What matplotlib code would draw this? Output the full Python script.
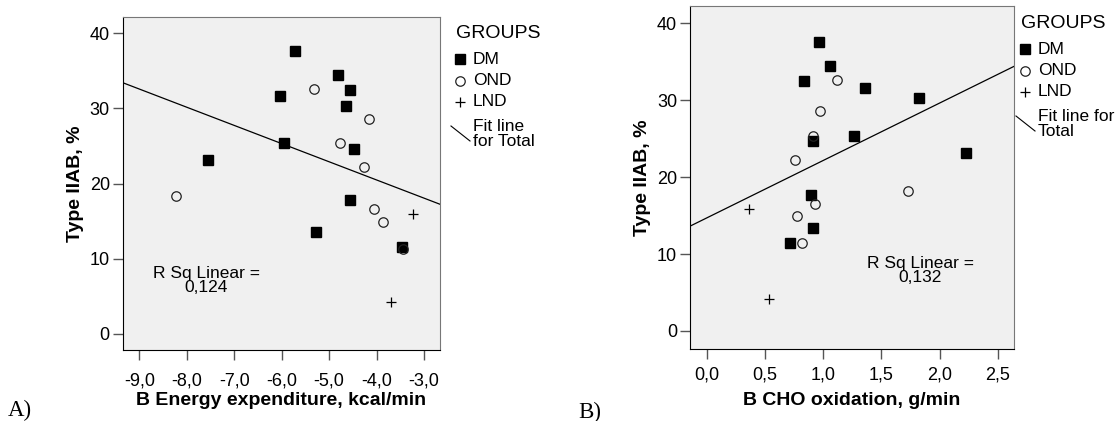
import numpy as np
import matplotlib
matplotlib.use('Agg')
import matplotlib.pyplot as plt
from matplotlib.lines import Line2D
from matplotlib.ticker import FuncFormatter

plt.rcParams['font.family'] = ['Liberation Sans', 'DejaVu Sans']

# ---- data ----
# panel A: B energy expenditure (kcal/min) vs type IIAB (%)
dm_energy = [-5.72, -4.81, -4.57, -6.03, -4.65, -5.94, -4.47, -7.55, -4.57, -5.28, -3.46]
dm_type = [37.6, 34.4, 32.5, 31.6, 30.3, 25.4, 24.6, 23.1, 17.8, 13.5, 11.6]
ond_energy = [-5.32, -4.16, -4.77, -4.26, -8.23, -4.05, -3.87, -3.45]
ond_type = [32.6, 28.6, 25.4, 22.2, 18.3, 16.6, 14.9, 11.3]
lnd_energy = [-3.23, -3.70]
lnd_type = [16.0, 4.2]
fit_a = (10.81, -2.418)   # intercept, slope
rsq_a = '0,124'

# panel B: B CHO oxidation (g/min) vs type IIAB (%)
dm_cho = [0.965, 1.059, 0.839, 1.363, 1.824, 1.266, 0.916, 2.228, 0.899, 0.916, 0.718]
dm_type_b = [37.6, 34.5, 32.5, 31.6, 30.3, 25.3, 24.7, 23.1, 17.7, 13.4, 11.5]
ond_cho = [1.122, 0.976, 0.910, 0.761, 1.729, 0.933, 0.773, 0.816]
ond_type_b = [32.6, 28.6, 25.4, 22.2, 18.2, 16.5, 14.9, 11.4]
lnd_cho = [0.363, 0.538]
lnd_type_b = [15.9, 4.1]
fit_b = (14.70, 7.467)
rsq_b = '0,132'

groups = ['DM', 'OND', 'LND']

W, H = 1119, 421
fig = plt.figure(figsize=(W / 100, H / 100), dpi=100)


def px_axes(l, t, r, b):
    return fig.add_axes([l / W, 1 - b / H, (r - l) / W, (b - t) / H])


def comma(v, pos):
    return f'{v:.1f}'.replace('.', ',')


def style(ax, xpad):
    ax.set_facecolor('#f0f0f0')
    for s in ['left', 'bottom']:
        ax.spines[s].set_color('black')
    for s in ['top', 'right']:
        ax.spines[s].set_color('#777777')
    ax.tick_params(direction='out', length=7.5, width=1, color='#555555',
                   labelsize=13, pad=2)
    ax.tick_params(axis='x', pad=xpad)
    ax.set_yticks([0, 10, 20, 30, 40])


def scatter(ax, xs):
    (dx, dy), (ox, oy), (lx, ly) = xs
    ax.plot(dx, dy, 's', color='black', ms=7, zorder=3)
    ax.plot(ox, oy, 'o', mfc='none', mec='#222222', mew=0.9, ms=6.8, zorder=3)
    ax.plot(lx, ly, '+', color='black', mew=0.9, ms=7, zorder=3)


def legend(x0, y0, fit_txt):
    # x0: marker column, y0: title centre (pixels)
    fig.text((x0 - 4) / W, 1 - y0 / H, 'GROUPS', fontsize=14, va='center')
    rows = [('s', dict(color='black', ms=7)),
            ('o', dict(mfc='none', mec='#222222', mew=0.9, ms=6.8)),
            ('+', dict(color='black', mew=0.9, ms=7))]
    for i, (name, (m, kw)) in enumerate(zip(groups, rows)):
        y = y0 + 26 + i * 21.5
        fig.add_artist(Line2D([x0 / W], [1 - y / H], marker=m, ls='none', **kw))
        fig.text((x0 + 13) / W, 1 - y / H, name, fontsize=12.5, va='center')
    y = y0 + 101
    fig.add_artist(Line2D([(x0 - 9) / W, (x0 + 10) / W],
                          [1 - (y - 8) / H, 1 - (y + 7) / H], color='black', lw=0.8))
    fig.text((x0 + 13) / W, 1 - y / H, fit_txt, fontsize=12.5, va='center',
             linespacing=0.95)


# ---- panel A ----
axA = px_axes(123, 16.7, 440, 350)
style(axA, 8.5)
scatter(axA, [(dm_energy, dm_type), (ond_energy, ond_type), (lnd_energy, lnd_type)])
xa = np.array([-9.343, -2.663])
axA.plot(xa, fit_a[0] + fit_a[1] * xa, color='black', lw=0.9, zorder=2)
axA.set_xlim(xa)
axA.set_ylim(-2.13, 42.19)
axA.set_xticks([-9, -8, -7, -6, -5, -4, -3])
axA.xaxis.set_major_formatter(FuncFormatter(comma))
axA.text(-7.59, 7.1, 'R Sq Linear =\n' + rsq_a, ha='center', va='center',
         fontsize=12.5, linespacing=0.95)
axA.set_ylabel('Type IIAB, %', fontsize=14, fontweight='bold', labelpad=4)
axA.set_xlabel('B Energy expenditure, kcal/min', fontsize=14, fontweight='bold',
               labelpad=2)
legend(460, 33, 'Fit line\nfor Total')
fig.text(8 / W, 1 - 410 / H, 'A)', fontsize=16.5, family='Liberation Serif',
         va='center')

# ---- panel B ----
axB = px_axes(690.3, 6, 1013.7, 348.5)
style(axB, 5.5)
scatter(axB, [(dm_cho, dm_type_b), (ond_cho, ond_type_b), (lnd_cho, lnd_type_b)])
xb = np.array([-0.141, 2.637])
axB.plot(xb, fit_b[0] + fit_b[1] * xb, color='black', lw=0.9, zorder=2)
axB.set_xlim(xb)
axB.set_ylim(-2.28, 42.26)
axB.set_xticks([0, 0.5, 1.0, 1.5, 2.0, 2.5])
axB.xaxis.set_major_formatter(FuncFormatter(comma))
axB.text(1.833, 7.9, 'R Sq Linear =\n' + rsq_b, ha='center', va='center',
         fontsize=12.5, linespacing=0.95)
axB.set_ylabel('Type IIAB, %', fontsize=14, fontweight='bold', labelpad=4)
axB.set_xlabel('B CHO oxidation, g/min', fontsize=14, fontweight='bold',
               labelpad=6)
legend(1025, 23, 'Fit line for\nTotal')
fig.text(578 / W, 1 - 412 / H, 'B)', fontsize=16.5, family='Liberation Serif',
         va='center')

fig.savefig('out.png', dpi=100)
